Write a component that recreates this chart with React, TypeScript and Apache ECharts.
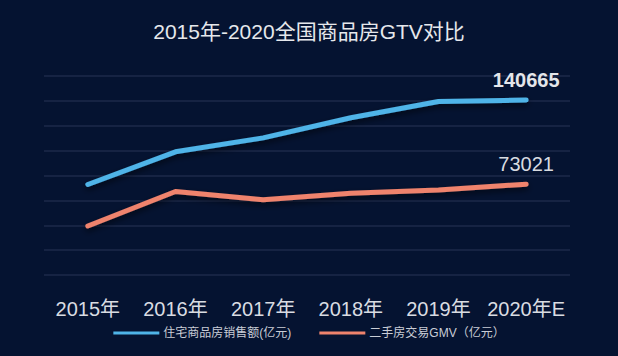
import React, { useEffect, useRef } from "react";
import * as echarts from "echarts";

const categories = ["2015年", "2016年", "2017年", "2018年", "2019年", "2020年E"];
const newHomeSales = [72770, 99064, 110240, 126393, 139440, 140665];
const secondHandGMV = [39400, 67100, 60500, 65700, 68400, 73021];
const seriesNames = ["住宅商品房销售额(亿元)", "二手房交易GMV（亿元）"];
const titleText = "2015年-2020全国商品房GTV对比";

const FONT = "'Liberation Sans', 'Noto Sans CJK SC', sans-serif";

function withEndLabel(values: number[], bold: boolean) {
  return values.map((v, i) =>
    i === values.length - 1
      ? {
          value: v,
          label: {
            show: true,
            position: "top",
            distance: 10,
            fontSize: 20,
            fontWeight: bold ? "bold" : "normal",
            color: bold ? "#e4e6ea" : "#d8dbe0",
            fontFamily: FONT,
          },
        }
      : v
  );
}

export default function App() {
  const ref = useRef<HTMLDivElement>(null);
  useEffect(() => {
    if (!ref.current) return;
    const chart = echarts.init(ref.current, null, { renderer: "svg" });
    const lineShadow = {
      shadowColor: "rgba(0,0,0,0.6)",
      shadowBlur: 6,
      shadowOffsetY: 3,
    };
    chart.setOption({
      animation: false,
      backgroundColor: "#051331",
      textStyle: { fontFamily: FONT },
      title: {
        text: titleText,
        left: "center",
        top: 21,
        padding: 0,
        textStyle: {
          fontSize: 21,
          fontWeight: "normal",
          color: "#e6e8ec",
          fontFamily: FONT,
        },
      },
      legend: {
        top: 327,
        left: "center",
        padding: 0,
        itemGap: 28,
        itemWidth: 46,
        itemHeight: 3,
        icon: "rect",
        textStyle: { color: "#c9cdd6", fontSize: 12, fontFamily: FONT, padding: [0, 0, 0, -1] },
        data: seriesNames,
      },
      grid: { left: 44, right: 48, top: 76, bottom: 81, containLabel: false },
      xAxis: {
        type: "category",
        data: categories,
        boundaryGap: true,
        axisLine: { show: false },
        axisTick: { show: false },
        axisLabel: {
          interval: 0,
          fontSize: 20,
          color: "#d9dce2",
          margin: 24,
          fontFamily: FONT,
        },
      },
      yAxis: {
        type: "value",
        min: 0,
        max: 160000,
        interval: 20000,
        axisLine: { show: false },
        axisTick: { show: false },
        axisLabel: { show: false },
        splitLine: { lineStyle: { color: "#1c2a4a", width: 1.5 } },
      },
      series: [
        {
          name: seriesNames[0],
          type: "line",
          data: withEndLabel(newHomeSales, true),
          showSymbol: true,
          symbol: "circle",
          symbolSize: 0,
          itemStyle: { color: "#4fb4e8" },
          lineStyle: { width: 5, color: "#4fb4e8", cap: "round", join: "round", ...lineShadow },
        },
        {
          name: seriesNames[1],
          type: "line",
          data: withEndLabel(secondHandGMV, false),
          showSymbol: true,
          symbol: "circle",
          symbolSize: 0,
          itemStyle: { color: "#ef836d" },
          lineStyle: { width: 5, color: "#ef836d", cap: "round", join: "round", ...lineShadow },
        },
      ],
    });
    return () => chart.dispose();
  }, []);
  return (
    <div
      ref={ref}
      style={{ position: "fixed", left: 0, top: 0, width: 618, height: 356 }}
    />
  );
}
